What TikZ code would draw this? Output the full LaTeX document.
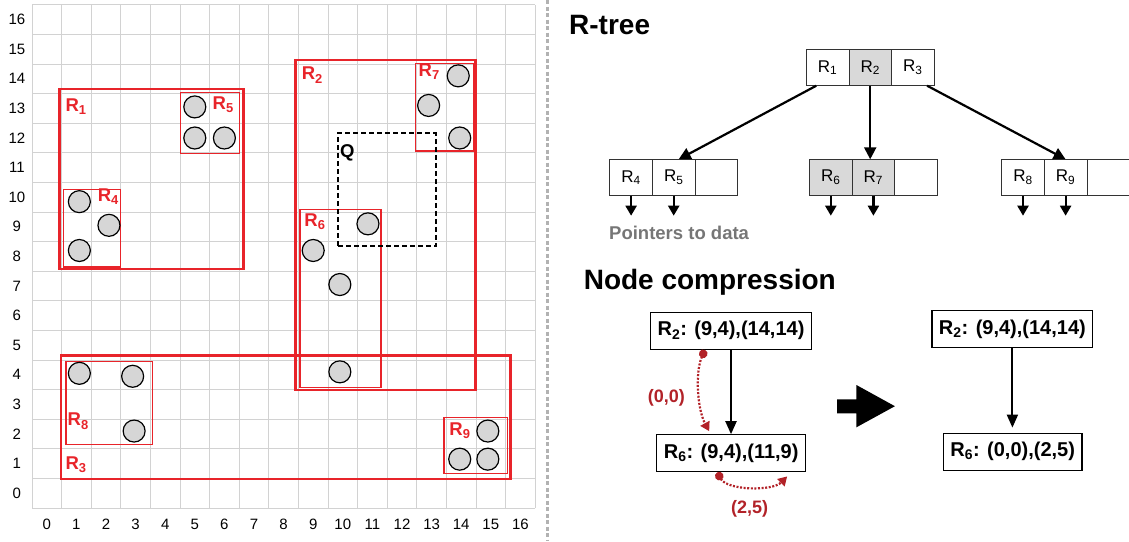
\documentclass[tikz,border=0pt]{standalone}
\usepackage{fontspec}
\setmainfont{Liberation Sans}
\usetikzlibrary{arrows.meta,positioning}

\definecolor{boxred}{RGB}{232,36,42}
\definecolor{curvered}{RGB}{178,34,40}
\definecolor{ptrgray}{RGB}{118,118,118}
\definecolor{cellgray}{RGB}{217,217,217}
\newcommand{\rlab}[1]{R\textsubscript{#1}}

\tikzset{
  gridline/.style={gray!35, line width=0.9pt},
  bigrect/.style={boxred, line width=2.6pt},
  smallrect/.style={boxred, line width=1.3pt},
  datapt/.style={fill=black!16, draw=black, line width=1.2pt},
  rlabel/.style={text=boxred, font=\fontsize{18.5}{20}\selectfont\bfseries, inner sep=0pt, anchor=mid},
  axlbl/.style={font=\fontsize{15}{17}\selectfont, inner sep=0pt},
  heading/.style={font=\fontsize{28}{32}\selectfont\bfseries, anchor=west, inner sep=0pt},
  cell/.style={draw=black!80, line width=0.8pt, minimum width=42.6pt, minimum height=36.4pt,
               inner sep=0pt, outer sep=0pt, font=\fontsize{17}{19}\selectfont},
  graycell/.style={cell, fill=cellgray},
  treearrow/.style={-{Triangle[width=12pt,length=12pt]}, line width=2.2pt},
  ptrarrow/.style={-{Triangle[width=11pt,length=10pt]}, line width=2.2pt},
  mbr/.style={draw, line width=1.2pt, minimum height=37pt, inner xsep=7pt, inner ysep=0pt,
              font=\fontsize{20}{22}\selectfont\bfseries},
  cmparrow/.style={-{Triangle[width=11pt,length=13pt]}, line width=2pt},
  offcurve/.style={curvered, line width=2.2pt, dash pattern=on 2pt off 1.6pt,
                   {Circle[length=8.5pt]}-{Triangle[width=10pt,length=9pt]}},
  offlbl/.style={text=curvered, font=\fontsize{18}{20}\selectfont\bfseries, inner sep=0pt},
  sepline/.style={gray!60, line width=2.4pt, dash pattern=on 4pt off 2.5pt},
}

\begin{document}
\begin{tikzpicture}[x=1pt,y=-1pt]
\useasboundingbox (0,0) rectangle (1129,541);

% ---- data space ----
\begin{scope}[shift={(46.8,493.2)}, x=29.6pt, y=29.6pt]
  \draw[gridline, shift={(-0.5,-0.5)}, step=1] (0,0) grid (17,17);
  \foreach \i in {0,...,16} {
    \node[axlbl] (yl\i) at (-1.01,\i) {\i}; % y labels
    \node[axlbl] (xl\i) at (\i,-1.04) {\i}; % x labels
  }

  \draw[bigrect] (0.42,7.57) rectangle (6.64,13.66);   % R1
  \draw[bigrect] (8.41,3.49) rectangle (14.49,14.64);  % R2
  \draw[bigrect] (0.48,0.48) rectangle (15.67,4.66);   % R3
  \draw[smallrect] (0.56,7.64) rectangle (2.5,10.27);  % R4
  \draw[smallrect] (4.52,11.47) rectangle (6.52,13.53);% R5
  \draw[smallrect] (8.55,3.58) rectangle (11.29,9.59); % R6
  \draw[smallrect] (12.46,11.56) rectangle (14.41,14.52); % R7
  \draw[smallrect] (0.65,1.64) rectangle (3.56,4.46);  % R8
  \draw[smallrect] (13.42,0.67) rectangle (15.56,2.56);% R9
  \draw[line width=1.8pt, dash pattern=on 5pt off 3pt] (9.83,8.36) rectangle (13.14,12.16); % query

  \filldraw[datapt] (1.1,9.85) circle[radius=11pt];
  \filldraw[datapt] (2.1,9.05) circle[radius=11pt];
  \filldraw[datapt] (1.1,8.2) circle[radius=11pt];
  \filldraw[datapt] (5,13.05) circle[radius=11pt];
  \filldraw[datapt] (5,12) circle[radius=11pt];
  \filldraw[datapt] (6,12) circle[radius=11pt];
  \filldraw[datapt] (10.85,9.1) circle[radius=11pt];
  \filldraw[datapt] (9,8.2) circle[radius=11pt];
  \filldraw[datapt] (9.9,7.05) circle[radius=11pt];
  \filldraw[datapt] (9.9,4.1) circle[radius=11pt];
  \filldraw[datapt] (13.9,14.1) circle[radius=11pt];
  \filldraw[datapt] (12.9,13.1) circle[radius=11pt];
  \filldraw[datapt] (13.95,12) circle[radius=11pt];
  \filldraw[datapt] (1.1,4.05) circle[radius=11pt];
  \filldraw[datapt] (2.9,3.95) circle[radius=11pt];
  \filldraw[datapt] (2.95,2.1) circle[radius=11pt];
  \filldraw[datapt] (14.9,2.1) circle[radius=11pt];
  \filldraw[datapt] (13.95,1.15) circle[radius=11pt];
  \filldraw[datapt] (14.9,1.15) circle[radius=11pt];

  \node[rlabel] (lR1) at (0.99,12.98) {\rlab{1}};
  \node[rlabel] (lR2) at (8.97,14.05) {\rlab{2}};
  \node[rlabel] (lR3) at (0.99,0.9) {\rlab{3}};
  \node[rlabel] (lR4) at (2.08,9.94) {\rlab{4}};
  \node[rlabel] (lR5) at (5.96,13.06) {\rlab{5}};
  \node[rlabel] (lR6) at (9.06,9.09) {\rlab{6}};
  \node[rlabel] (lR7) at (12.92,14.16) {\rlab{7}};
  \node[rlabel] (lR8) at (1.06,2.36) {\rlab{8}};
  \node[rlabel] (lR9) at (13.96,2.04) {\rlab{9}};
  \node[rlabel, text=black] (lQ) at (10.15,11.43) {Q};
\end{scope}

\draw[sepline] (547.3,0) -- (547.3,541); % separator

% ---- R-tree ----
\node[heading] (ttree) at (569,25) {R-tree};

\node[cell] (r1) at (827.6,67.5) {\rlab{1}};
\node[graycell, right=0pt of r1] (r2) {\rlab{2}};
\node[cell, right=0pt of r2] (r3) {\rlab{3}};

\node[cell] (c4) at (631.1,177.5) {\rlab{4}};
\node[cell, right=0pt of c4] (c5) {\rlab{5}};
\node[cell, right=0pt of c5] (e1) {};
\node[graycell] (c6) at (830.8,177.5) {\rlab{6}};
\node[graycell, right=0pt of c6] (c7) {\rlab{7}};
\node[cell, right=0pt of c7] (e2) {};
\node[cell] (c8) at (1023,177.5) {\rlab{8}};
\node[cell, right=0pt of c8] (c9) {\rlab{9}};
\node[cell, right=0pt of c9] (e3) {};

\draw[treearrow] ([xshift=10pt]r1.south west) -- ([xshift=5pt]c5.north);
\draw[treearrow] (r2.south) -- (r2.south |- c7.north);
\draw[treearrow] ([xshift=-7pt]r3.south east) -- (c9.north);

\foreach \c in {c4,c5,c6,c7,c8,c9}
  \draw[ptrarrow] (\c.south) -- ++(0,20); % pointers

\node[anchor=west, inner sep=0pt, text=ptrgray, font=\fontsize{18.5}{20}\selectfont\bfseries]
  (ptrtxt) at (609,233.3) {Pointers to data};

% ---- node compression ----
\node[heading] (tcomp) at (583.6,282.5) {Node compression};

\node[mbr] (lr2) at (731,330.8) {\rlab{2}: (9,4),(14,14)};
\node[mbr] (lr6) at (731.2,453.3) {\rlab{6}: (9,4),(11,9)};
\node[mbr] (rr2) at (1012.4,329.2) {\rlab{2}: (9,4),(14,14)};
\node[mbr] (rr6) at (1012.7,451.7) {\rlab{6}: (0,0),(2,5)};

\draw[cmparrow] (lr2.south) -- (lr2.south |- lr6.north);
\draw[cmparrow, shorten >=5pt] (rr2.south) -- (rr2.south |- rr6.north);

\draw[offcurve] ([xshift=-26pt]lr2.south) .. controls +(-10,22) and +(-12,-22) .. ([xshift=-22pt,yshift=3pt]lr6.north);
\draw[offcurve] ([xshift=-14pt]lr6.south) .. controls +(10,18) and +(-15,15) .. ([xshift=56pt,yshift=-4pt]lr6.south);
\node[offlbl] (off1) at (666.4,398.3) {(0,0)};
\node[offlbl] (off2) at (749.6,509.3) {(2,5)};

\fill (837.2,399.3) -- (856.4,399.3) -- (856.4,385) -- (894.9,406.2)
  -- (856.4,427.3) -- (856.4,413.3) -- (837.2,413.3) -- cycle; % big arrow
\end{tikzpicture}
\end{document}
